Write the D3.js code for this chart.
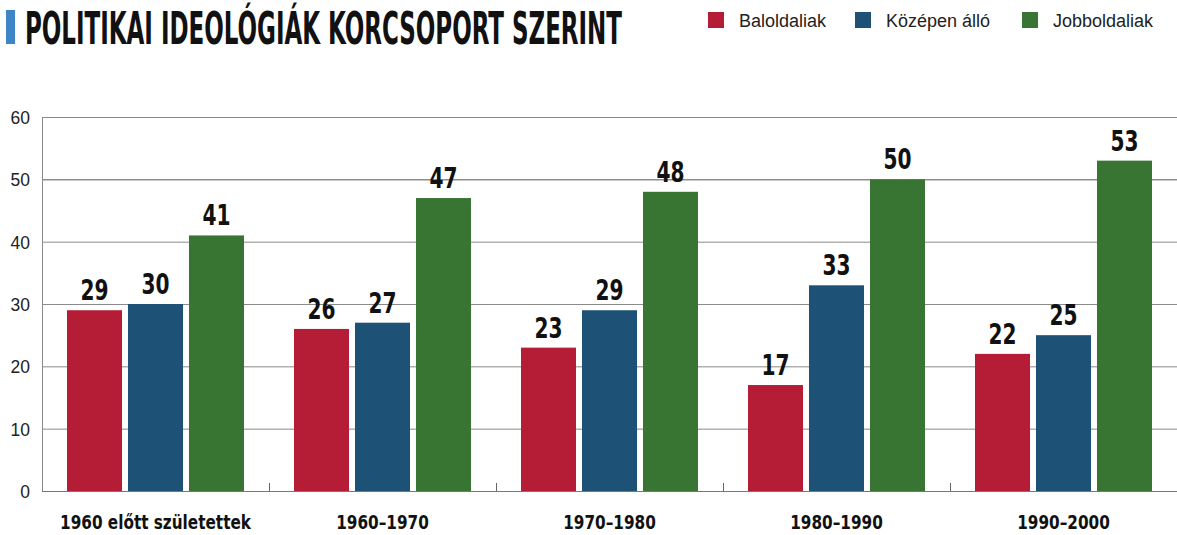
<!DOCTYPE html>
<html><head><meta charset="utf-8">
<script src="https://cdn.jsdelivr.net/npm/d3@7"></script>
<style>body{margin:0;background:#fff}svg{display:block}</style>
</head><body>
<svg id="chart" width="1177" height="535"></svg>
<script>
const categories = ["1960 előtt születettek", "1960–1970", "1970–1980", "1980–1990", "1990–2000"];
const seriesNames = ["Baloldaliak", "Középen álló", "Jobboldaliak"];
const baloldaliak = [29, 26, 23, 17, 22];
const kozepen = [30, 27, 29, 33, 25];
const jobboldaliak = [41, 47, 48, 50, 53];
const yTicks = [0, 10, 20, 30, 40, 50, 60];
const colors = ["#b51c35", "#1d5276", "#397532"];
const title = "POLITIKAI IDEOLÓGIÁK KORCSOPORT SZERINT";

const seriesValues = [baloldaliak, kozepen, jobboldaliak];
const svg = d3.select("#chart");
const W = 1177, plotLeft = 42, plotTop = 117, plotBottom = 491;
const condFont = "Liberation Sans Narrow, DejaVu Sans Condensed, sans-serif";

const x0 = d3.scaleBand().domain(categories).range([plotLeft, W]).padding(0);
const x1 = d3.scaleBand().domain(seriesNames).range([25, x0.bandwidth() - 25]).paddingInner(0.098).paddingOuter(0);
const y = d3.scaleLinear().domain([0, 60]).range([plotBottom, plotTop]);

function condense(sel, factor) {
  sel.each(function() {
    const len = this.getComputedTextLength();
    d3.select(this).attr("textLength", len * factor).attr("lengthAdjust", "spacingAndGlyphs");
  });
}

// gridlines
svg.append("g").selectAll("line").data(yTicks).join("line")
  .attr("x1", plotLeft).attr("x2", W)
  .attr("y1", d => y(d) + 0.5).attr("y2", d => y(d) + 0.5)
  .attr("stroke", d => d === 50 ? "#555" : "#8a8a8a").attr("stroke-width", 1);

// left axis line
svg.append("line").attr("x1", plotLeft + 0.5).attr("x2", plotLeft + 0.5)
  .attr("y1", plotTop).attr("y2", plotBottom + 1).attr("stroke", "#8a8a8a");

// y tick labels
svg.append("g").selectAll("text").data(yTicks).join("text")
  .attr("x", 30).attr("y", d => y(d) + 7)
  .attr("text-anchor", "end")
  .attr("font-family", "Liberation Sans, Arial, sans-serif")
  .attr("font-size", 19).attr("fill", "#222")
  .text(d => d)
  .call(condense, 0.92);

// group separator ticks
svg.append("g").selectAll("line").data(categories.slice(1)).join("line")
  .attr("x1", d => x0(d) + 0.5).attr("x2", d => x0(d) + 0.5)
  .attr("y1", plotBottom - 8).attr("y2", plotBottom)
  .attr("stroke", "#666");

// bars
const groups = svg.append("g").selectAll("g").data(categories).join("g")
  .attr("transform", d => `translate(${x0(d)},0)`);

groups.each(function(cat, ci) {
  const g = d3.select(this);
  const data = seriesNames.map((s, si) => ({s, si, v: seriesValues[si][ci]}));
  g.selectAll("rect").data(data).join("rect")
    .attr("x", d => x1(d.s)).attr("width", x1.bandwidth())
    .attr("y", d => y(d.v)).attr("height", d => y(0) - y(d.v))
    .attr("fill", d => colors[d.si]);
  g.selectAll("text").data(data).join("text")
    .attr("x", d => x1(d.s) + x1.bandwidth() / 2)
    .attr("y", d => y(d.v) - 10)
    .attr("text-anchor", "middle")
    .attr("font-family", condFont)
    .attr("font-weight", "bold").attr("font-size", 28).attr("fill", "#111")
    .text(d => d.v)
    .call(condense, 0.8);
});

// bottom axis line
svg.append("line").attr("x1", plotLeft).attr("x2", W)
  .attr("y1", plotBottom + 0.5).attr("y2", plotBottom + 0.5).attr("stroke", "#777");

// category labels
svg.append("g").selectAll("text").data(categories).join("text")
  .attr("x", d => x0(d) + x0.bandwidth() / 2)
  .attr("y", 529)
  .attr("text-anchor", "middle")
  .attr("font-family", condFont)
  .attr("font-weight", "bold").attr("font-size", 19.5).attr("fill", "#111")
  .text(d => d)
  .call(condense, 0.87);

// title
svg.append("rect").attr("x", 6).attr("y", 10).attr("width", 9).attr("height", 34).attr("fill", "#3d85c6");
const titleText = svg.append("text").attr("transform", "translate(25,44) scale(1,1.8)")
  .attr("font-family", condFont)
  .attr("font-weight", "bold").attr("font-size", 24.5).attr("fill", "#111")
  .text(title);
titleText.attr("textLength", 597).attr("lengthAdjust", "spacingAndGlyphs");

// legend
const legendX = [708, 855, 1022];
const leg = svg.append("g").selectAll("g").data(seriesNames).join("g")
  .attr("transform", (d, i) => `translate(${legendX[i]},12)`);
leg.append("rect").attr("width", 16).attr("height", 16).attr("fill", (d, i) => colors[i]);
leg.append("text").attr("x", 31).attr("y", 15)
  .attr("font-family", "Liberation Sans, Arial, sans-serif")
  .attr("font-size", 18).attr("fill", "#222")
  .text(d => d);
</script>
</body></html>
